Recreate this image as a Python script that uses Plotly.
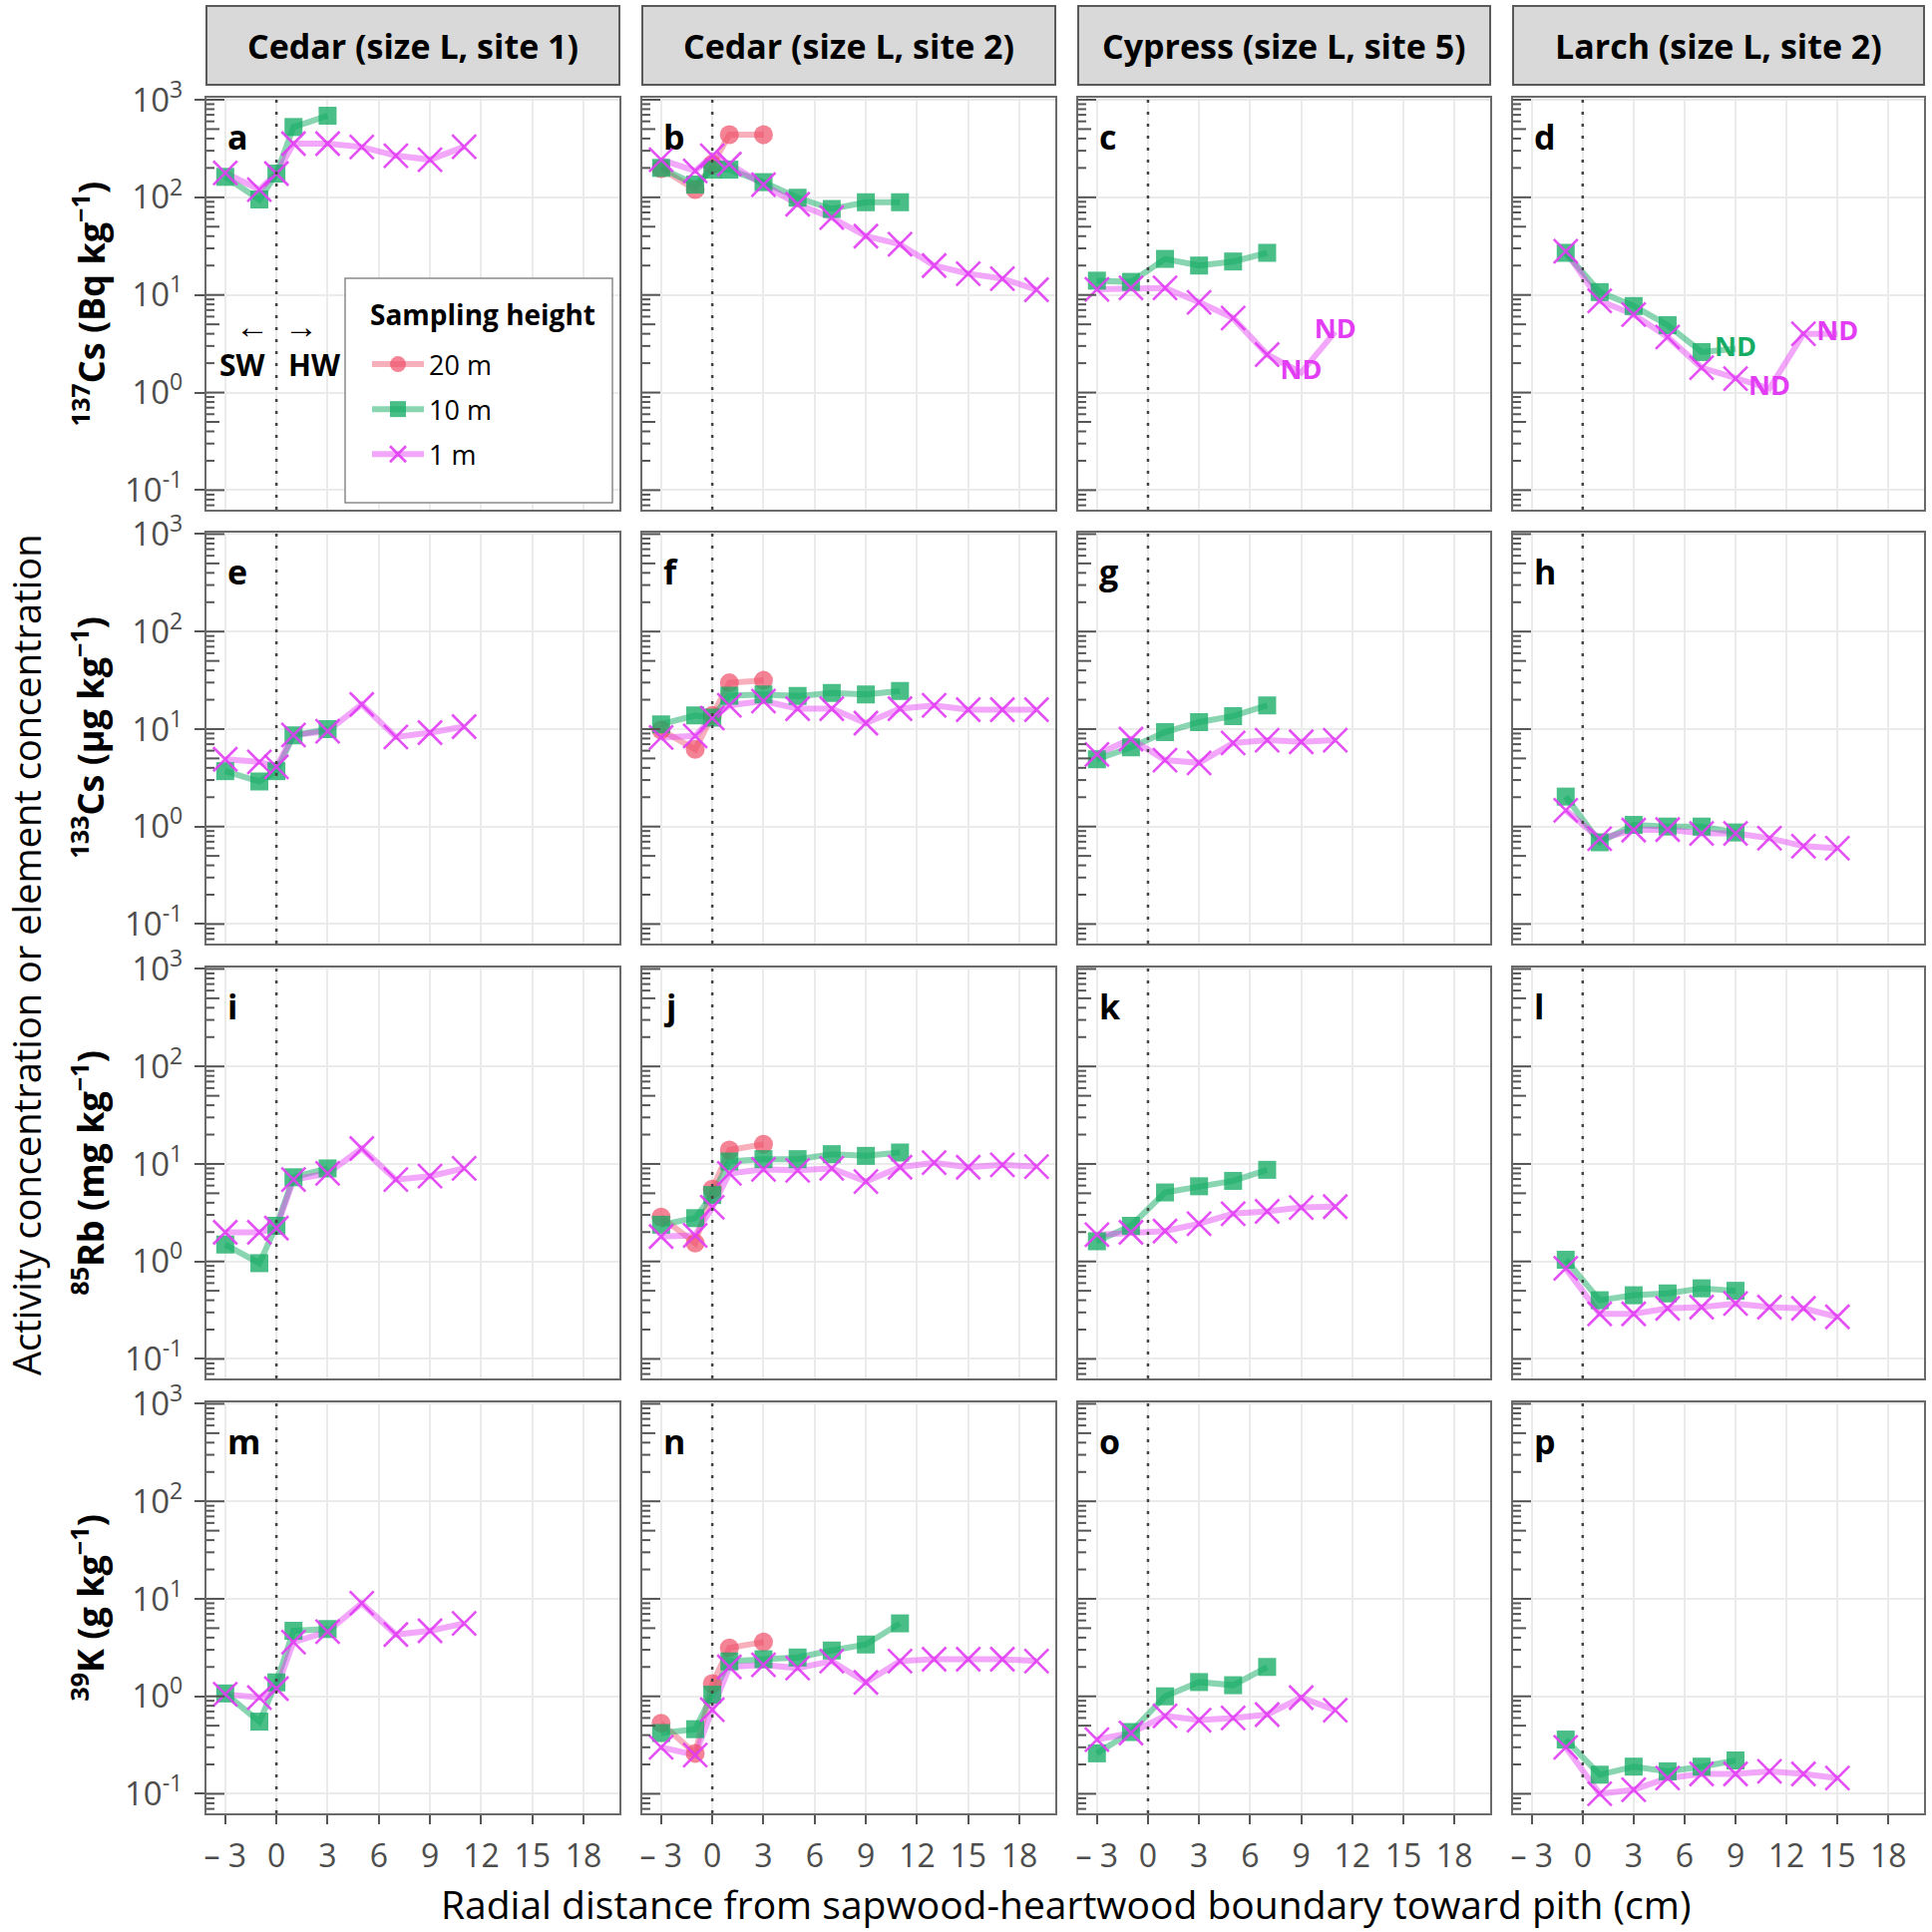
import math
import plotly.graph_objects as go

FIG_W = 1937
FIG_H = 1937
FONT = "Open Sans"

# ---------------- text ----------------
STRIP_TITLES = ["Cedar (size L, site 1)", "Cedar (size L, site 2)",
                "Cypress (size L, site 5)", "Larch (size L, site 2)"]
ROW_TITLES = ["<sup>137</sup>Cs (Bq kg<sup>\u22121</sup>)",
              "<sup>133</sup>Cs (\u00b5g kg<sup>\u22121</sup>)",
              "<sup>85</sup>Rb (mg kg<sup>\u22121</sup>)",
              "<sup>39</sup>K (g kg<sup>\u22121</sup>)"]
PANEL_LETTERS = list("abcdefghijklmnop")
SERIES = ["20 m", "10 m", "1 m"]
LEGEND_TITLE = "Sampling height"
X_TITLE = "Radial distance from sapwood-heartwood boundary toward pith (cm)"
Y_TITLE = "Activity concentration or element concentration"

X_TICKS = [-3, 0, 3, 6, 9, 12, 15, 18]
X_TICK_TEXT = ["\u2013 3", "0", "3", "6", "9", "12", "15", "18"]
Y_TICKS = [0.1, 1, 10, 100, 1000]
Y_TICK_TEXT = ["10<sup>-1</sup>", "10<sup>0</sup>", "10<sup>1</sup>", "10<sup>2</sup>", "10<sup>3</sup>"]

# ---------------- radial positions (cm) ----------------
X_C1_10M = [-3, -1, 0, 1, 3]
X_C1_1M = [-3, -1, 0, 1, 3, 5, 7, 9, 11]
X_C2_20M = [-3, -1, 0, 1, 3]
X_C2_10M = [-3, -1, 0, 1, 3, 5, 7, 9, 11]
X_C2_1M = [-3, -1, 0, 1, 3, 5, 7, 9, 11, 13, 15, 17, 19]
X_C3_10M = [-3, -1, 1, 3, 5, 7]
X_C3_1M = [-3, -1, 1, 3, 5, 7, 9, 11]
X_C4_10M = [-1, 1, 3, 5, 7, 9]
X_C4_1M = [-1, 1, 3, 5, 7, 9, 11, 13, 15]

# not-detected positions (plotted as "ND")
ND_C_1M = [9, 11]
ND_D_10M = [9]
ND_D_1M = [11, 15]

# ---------------- 137Cs (Bq/kg) ----------------
CS137_A_10M = [162, 95, 175, 525, 685]
CS137_A_1M = [178, 120, 175, 355, 355, 328, 267, 243, 330]
CS137_B_20M = [197, 120, 216, 438, 438]
CS137_B_10M = [200, 135, 192, 192, 143, 99, 76, 89, 89]
CS137_B_1M = [243, 186, 267, 219, 135, 85, 62, 40, 33, 20, 16.5, 14.7, 11.3]
CS137_C_10M = [14, 13.6, 23.4, 20, 22, 27]
CS137_C_1M = [11.4, 11.8, 11.8, 8.4, 5.8, 2.45, 1.6, 4.2]
CS137_D_10M = [27, 10.7, 7.7, 4.9, 2.6, 2.8]
CS137_D_1M = [28, 8.7, 6.3, 3.7, 1.8, 1.39, 1.1, 4.0, 4.0]

# ---------------- 133Cs (ug/kg) ----------------
CS133_E_10M = [3.7, 2.9, 3.7, 8.6, 10.0]
CS133_E_1M = [4.9, 4.6, 4.1, 8.7, 9.5, 17.9, 8.3, 9.2, 10.6]
CS133_F_20M = [9.8, 6.2, 13.8, 29.8, 31.6]
CS133_F_10M = [11.2, 13.8, 13.1, 22, 22.7, 21.8, 23.4, 22.7, 24.6]
CS133_F_1M = [8.2, 8.5, 13.0, 17.5, 19.4, 16.2, 16.2, 11.5, 16.2, 17.5, 15.8, 15.8, 15.8]
CS133_G_10M = [4.9, 6.5, 9.3, 11.8, 13.6, 17.5]
CS133_G_1M = [5.5, 7.9, 4.8, 4.5, 7.2, 7.7, 7.4, 7.7]
CS133_H_10M = [2.03, 0.69, 1.04, 1.0, 1.0, 0.87]
CS133_H_1M = [1.47, 0.75, 0.92, 0.93, 0.85, 0.85, 0.76, 0.63, 0.6]

# ---------------- 85Rb (mg/kg) ----------------
RB85_I_10M = [1.49, 0.96, 2.32, 7.3, 9.0]
RB85_I_1M = [1.99, 1.99, 2.2, 6.9, 8.0, 14.4, 6.9, 7.5, 9.0]
RB85_J_20M = [2.85, 1.54, 5.5, 13.9, 15.9]
RB85_J_10M = [2.38, 2.78, 4.8, 10.6, 11.2, 11.2, 12.6, 12.1, 13.1]
RB85_J_1M = [1.8, 1.85, 3.6, 8.0, 8.8, 8.6, 9.0, 6.6, 9.25, 10.3, 9.25, 9.8, 9.4]
RB85_K_10M = [1.61, 2.32, 5.1, 5.9, 6.7, 8.7]
RB85_K_1M = [1.88, 1.99, 2.05, 2.44, 3.09, 3.26, 3.58, 3.65]
RB85_L_10M = [1.04, 0.4, 0.45, 0.47, 0.53, 0.5]
RB85_L_1M = [0.85, 0.29, 0.29, 0.33, 0.34, 0.37, 0.34, 0.33, 0.27]

# ---------------- 39K (g/kg) ----------------
K39_M_10M = [1.07, 0.55, 1.39, 4.7, 4.9]
K39_M_1M = [1.05, 0.97, 1.2, 3.6, 4.6, 9.0, 4.3, 4.7, 5.6]
K39_N_20M = [0.53, 0.26, 1.35, 3.14, 3.6]
K39_N_10M = [0.42, 0.46, 1.04, 2.28, 2.4, 2.5, 2.95, 3.4, 5.6]
K39_N_1M = [0.3, 0.25, 0.73, 2.0, 2.1, 1.95, 2.3, 1.39, 2.3, 2.4, 2.4, 2.4, 2.3]
K39_O_10M = [0.26, 0.43, 1.0, 1.4, 1.3, 2.0]
K39_O_1M = [0.36, 0.42, 0.63, 0.57, 0.6, 0.65, 0.97, 0.72]
K39_P_10M = [0.36, 0.157, 0.19, 0.17, 0.19, 0.22]
K39_P_1M = [0.3, 0.1, 0.11, 0.145, 0.16, 0.16, 0.17, 0.16, 0.145]

PANELS = [
    # row 1
    {"20 m": None, "10 m": (X_C1_10M, CS137_A_10M, []), "1 m": (X_C1_1M, CS137_A_1M, [])},
    {"20 m": (X_C2_20M, CS137_B_20M, []), "10 m": (X_C2_10M, CS137_B_10M, []), "1 m": (X_C2_1M, CS137_B_1M, [])},
    {"20 m": None, "10 m": (X_C3_10M, CS137_C_10M, []), "1 m": (X_C3_1M, CS137_C_1M, ND_C_1M)},
    {"20 m": None, "10 m": (X_C4_10M, CS137_D_10M, ND_D_10M), "1 m": (X_C4_1M, CS137_D_1M, ND_D_1M)},
    # row 2
    {"20 m": None, "10 m": (X_C1_10M, CS133_E_10M, []), "1 m": (X_C1_1M, CS133_E_1M, [])},
    {"20 m": (X_C2_20M, CS133_F_20M, []), "10 m": (X_C2_10M, CS133_F_10M, []), "1 m": (X_C2_1M, CS133_F_1M, [])},
    {"20 m": None, "10 m": (X_C3_10M, CS133_G_10M, []), "1 m": (X_C3_1M, CS133_G_1M, [])},
    {"20 m": None, "10 m": (X_C4_10M, CS133_H_10M, []), "1 m": (X_C4_1M, CS133_H_1M, [])},
    # row 3
    {"20 m": None, "10 m": (X_C1_10M, RB85_I_10M, []), "1 m": (X_C1_1M, RB85_I_1M, [])},
    {"20 m": (X_C2_20M, RB85_J_20M, []), "10 m": (X_C2_10M, RB85_J_10M, []), "1 m": (X_C2_1M, RB85_J_1M, [])},
    {"20 m": None, "10 m": (X_C3_10M, RB85_K_10M, []), "1 m": (X_C3_1M, RB85_K_1M, [])},
    {"20 m": None, "10 m": (X_C4_10M, RB85_L_10M, []), "1 m": (X_C4_1M, RB85_L_1M, [])},
    # row 4
    {"20 m": None, "10 m": (X_C1_10M, K39_M_10M, []), "1 m": (X_C1_1M, K39_M_1M, [])},
    {"20 m": (X_C2_20M, K39_N_20M, []), "10 m": (X_C2_10M, K39_N_10M, []), "1 m": (X_C2_1M, K39_N_1M, [])},
    {"20 m": None, "10 m": (X_C3_10M, K39_O_10M, []), "1 m": (X_C3_1M, K39_O_1M, [])},
    {"20 m": None, "10 m": (X_C4_10M, K39_P_10M, []), "1 m": (X_C4_1M, K39_P_1M, [])},
]

# ---------------- styles ----------------
STYLE = {
    "20 m": dict(symbol="circle", size=19, fill="rgba(238,78,104,0.70)",
                 line="rgba(238,78,104,0.45)", text="rgb(238,78,104)"),
    "10 m": dict(symbol="square", size=18, fill="rgba(22,172,100,0.78)",
                 line="rgba(22,172,100,0.50)", text="rgb(22,172,100)"),
    "1 m": dict(symbol="x-thin", size=24, fill="rgba(226,60,245,0.90)",
                line="rgba(226,60,245,0.45)", text="rgb(226,60,245)"),
}
LINE_W = 6
BORDER = "#6a6a6a"
TICKC = "#555555"
GRID = "#ebebeb"
X_RANGE = [-4.1, 20.1]
Y_RANGE = [-1.2, 3.02]

COL_PX = [(207, 621), (644, 1058), (1081, 1494), (1517, 1929)]
ROW_PX = [(98, 511), (533.5, 946), (969.5, 1382), (1405.5, 1818)]
STRIP_PX = (6, 85)
LEGEND_BOX_PX = (346, 279, 614, 504)


def px_x(p):
    return p / FIG_W


def px_y(p):
    return 1 - p / FIG_H


def aid(n):
    return "" if n == 1 else str(n)


fig = go.Figure()

# lines first, then markers, then ND labels
for layer in ("lines", "markers", "text"):
    for k, panel in enumerate(PANELS):
        n = k + 1
        for s in SERIES:
            if panel[s] is None:
                continue
            xs, ys, nd = panel[s]
            st = STYLE[s]
            common = dict(xaxis="x" + aid(n), yaxis="y" + aid(n), showlegend=False,
                          legendgroup=s, hoverinfo="skip")
            if layer == "lines":
                fig.add_trace(go.Scatter(x=xs, y=ys, mode="lines",
                                         line=dict(color=st["line"], width=LINE_W), **common))
            elif layer == "markers":
                mx = [x for x in xs if x not in nd]
                my = [y for x, y in zip(xs, ys) if x not in nd]
                if st["symbol"] == "x-thin":
                    mk = dict(symbol="x-thin", size=st["size"],
                              line=dict(color=st["fill"], width=2.6), color=st["fill"])
                else:
                    mk = dict(symbol=st["symbol"], size=st["size"], color=st["fill"],
                              line=dict(width=0))
                fig.add_trace(go.Scatter(x=mx, y=my, mode="markers", marker=mk, **common))
            else:
                if not nd:
                    continue
                tx = [x for x in xs if x in nd]
                ty = [y for x, y in zip(xs, ys) if x in nd]
                fig.add_trace(go.Scatter(x=tx, y=ty, mode="text", text=["ND"] * len(tx),
                                         textposition="middle center",
                                         textfont=dict(family=FONT, size=27, color=st["text"],
                                                       weight="bold"), **common))

# legend-only entries
for rank, s in enumerate(SERIES):
    st = STYLE[s]
    if st["symbol"] == "x-thin":
        mk = dict(symbol="x-thin", size=18, line=dict(color=st["fill"], width=2.6), color=st["fill"])
    else:
        mk = dict(symbol=st["symbol"], size=17, color=st["fill"], line=dict(width=0))
    fig.add_trace(go.Scatter(x=[None], y=[None], mode="lines+markers", name=s,
                             line=dict(color=st["line"], width=LINE_W), marker=mk,
                             legendgroup=s, legendrank=rank + 1, showlegend=True,
                             xaxis="x", yaxis="y"))

layout = dict(
    template="none",
    width=FIG_W, height=FIG_H, autosize=False,
    margin=dict(l=0, r=0, t=0, b=0, pad=0),
    paper_bgcolor="white", plot_bgcolor="white",
    font=dict(family=FONT, color="black"),
    showlegend=True,
    legend=dict(x=px_x(368), y=px_y(341), xanchor="left", yanchor="top",
                bgcolor="rgba(0,0,0,0)", borderwidth=0,
                font=dict(family=FONT, size=27, color="black"),
                tracegroupgap=7, itemwidth=52),
)

shapes = []
annotations = []

for r in range(4):
    for c in range(4):
        n = r * 4 + c + 1
        x0p, x1p = COL_PX[c]
        y0p, y1p = ROW_PX[r]
        layout["xaxis" + aid(n)] = dict(
            domain=[px_x(x0p), px_x(x1p)], range=X_RANGE, anchor="y" + aid(n),
            tickvals=X_TICKS, ticktext=X_TICK_TEXT, showticklabels=(r == 3),
            ticks="outside" if r == 3 else "", ticklen=9, tickwidth=2, tickcolor=TICKC,
            ticklabelstandoff=4, automargin=False,
            tickfont=dict(family=FONT, size=32, color="#4d4d4d"),
            showgrid=True, gridcolor=GRID, gridwidth=1.5, zeroline=False,
            showline=True, mirror=True, linecolor=BORDER, linewidth=2.2, fixedrange=True)
        layout["yaxis" + aid(n)] = dict(
            domain=[px_y(y1p), px_y(y0p)], type="log", range=Y_RANGE, anchor="x" + aid(n),
            tickvals=Y_TICKS, ticktext=Y_TICK_TEXT, showticklabels=(c == 0),
            ticks="outside" if c == 0 else "", ticklen=10, tickwidth=2, tickcolor=TICKC,
            ticklabelstandoff=5, automargin=False,
            tickfont=dict(family=FONT, size=33, color="#4d4d4d"),
            showgrid=True, gridcolor=GRID, gridwidth=1.5, zeroline=False,
            showline=True, mirror=True, linecolor=BORDER, linewidth=2.2, fixedrange=True)

        width_px = x1p - x0p
        # inside log ticks (annotation_logticks style)
        for e in range(-2, 4):
            for m in range(1, 10):
                v = m * 10 ** e
                lv = math.log10(v)
                if lv < Y_RANGE[0] or lv > Y_RANGE[1]:
                    continue
                ln = 18 if m == 1 else (13 if m == 5 else 8)
                frac = (lv - Y_RANGE[0]) / (Y_RANGE[1] - Y_RANGE[0])
                shapes.append(dict(type="line", xref="x" + aid(n) + " domain",
                                   yref="y" + aid(n) + " domain",
                                   x0=0, x1=ln / width_px, y0=frac, y1=frac,
                                   line=dict(color=TICKC, width=2), layer="above"))
        # dotted sapwood/heartwood boundary
        shapes.append(dict(type="line", xref="x" + aid(n), yref="y" + aid(n) + " domain",
                           x0=0, x1=0, y0=0, y1=1,
                           line=dict(color="#444444", width=2.5, dash="3px,9px"), layer="above"))
        # panel letter
        annotations.append(dict(text=PANEL_LETTERS[n - 1], xref="x" + aid(n) + " domain",
                                yref="y" + aid(n) + " domain", x=0.046, y=0.905,
                                xanchor="left", yanchor="middle", showarrow=False,
                                font=dict(family=FONT, size=34, color="black", weight="bold")))

# legend frame and title
bx0, by0, bx1, by1 = LEGEND_BOX_PX
shapes.append(dict(type="rect", xref="paper", yref="paper",
                   x0=px_x(bx0), x1=px_x(bx1), y0=px_y(by1), y1=px_y(by0),
                   fillcolor="white", line=dict(color="#8a8a8a", width=1.5), layer="above"))
annotations.append(dict(text=LEGEND_TITLE, xref="paper", yref="paper",
                        x=px_x(369), y=px_y(315), xanchor="left", yanchor="middle",
                        showarrow=False,
                        font=dict(family=FONT, size=28, color="black", weight="bold")))

# strips
for c in range(4):
    x0p, x1p = COL_PX[c]
    shapes.append(dict(type="rect", xref="paper", yref="paper",
                       x0=px_x(x0p), x1=px_x(x1p), y0=px_y(STRIP_PX[1]), y1=px_y(STRIP_PX[0]),
                       fillcolor="#d9d9d9", line=dict(color="#5a5a5a", width=2), layer="below"))
    annotations.append(dict(text=STRIP_TITLES[c], xref="paper", yref="paper",
                            x=px_x((x0p + x1p) / 2), y=px_y(sum(STRIP_PX) / 2),
                            xanchor="center", yanchor="middle", showarrow=False,
                            font=dict(family=FONT, size=34, color="black", weight="bold")))

# row titles
for r in range(4):
    y0p, y1p = ROW_PX[r]
    annotations.append(dict(text=ROW_TITLES[r], xref="paper", yref="paper",
                            x=px_x(89), y=px_y((y0p + y1p) / 2), textangle=-90,
                            xanchor="center", yanchor="middle", showarrow=False,
                            font=dict(family=FONT, size=36, color="black", weight="bold")))

# global axis titles
annotations.append(dict(text=Y_TITLE, xref="paper", yref="paper", x=px_x(26),
                        y=px_y((ROW_PX[0][0] + ROW_PX[3][1]) / 2), textangle=-90,
                        xanchor="center", yanchor="middle", showarrow=False,
                        font=dict(family=FONT, size=38, color="black")))
annotations.append(dict(text=X_TITLE, xref="paper", yref="paper",
                        x=px_x((COL_PX[0][0] + COL_PX[3][1]) / 2), y=px_y(1908),
                        xanchor="center", yanchor="middle", showarrow=False,
                        font=dict(family=FONT, size=39, color="black")))

# SW / HW markers in panel a
for txt, xp, yp, size, bold in [("\u2190", 253, 326, 34, False), ("\u2192", 302, 326, 34, False),
                                ("SW", 243, 366, 30, True), ("HW", 315, 366, 30, True)]:
    annotations.append(dict(text=txt, xref="paper", yref="paper", x=px_x(xp), y=px_y(yp),
                            xanchor="center", yanchor="middle", showarrow=False,
                            font=dict(family=FONT, size=size, color="black",
                                      weight="bold" if bold else "normal")))

layout["shapes"] = shapes
layout["annotations"] = annotations
fig.update_layout(**layout)

fig.write_html("out.html", config={"displayModeBar": False},
               post_script="document.body.style.margin='0px';")
